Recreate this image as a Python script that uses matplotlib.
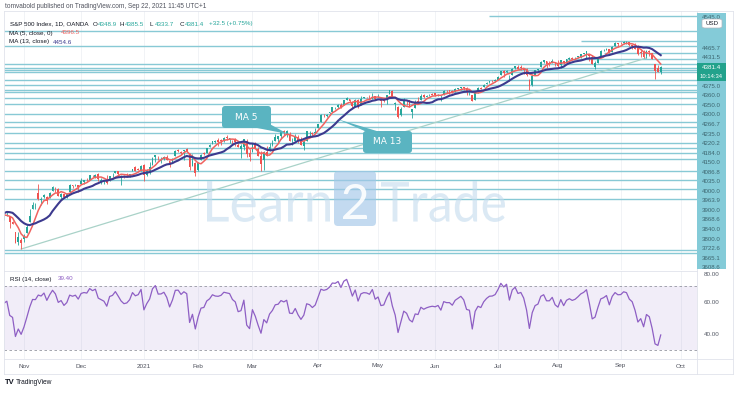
import numpy as np
import pandas as pd
import matplotlib
matplotlib.use('Agg')
import matplotlib.pyplot as plt
from matplotlib.patches import Rectangle, FancyBboxPatch, Polygon, PathPatch
from matplotlib.lines import Line2D
from matplotlib.textpath import TextPath
from matplotlib.font_manager import FontProperties
from matplotlib.transforms import Affine2D, IdentityTransform, blended_transform_factory

# ---------------- data (daily OHLC, 2020-09-30 .. 2021-09-22) ----------------
holidays = ['2020-11-26', '2020-12-25', '2021-01-01', '2021-01-18', '2021-02-15',
            '2021-04-02', '2021-05-31', '2021-07-05', '2021-09-06']
first_day, last_day = '2020-09-30', '2021-09-22'

opens = [
    3341, 3385, 3339, 3368, 3408, 3385, 3434, 3459, 3500, 3534, 3516, 3453, 3493, 3493, 3440, 3440, 3439, 3458, 3441, 3404, 3342, 3278, 3293,
    3297, 3336, 3406, 3485, 3509, 3584, 3544, 3564, 3563, 3552, 3601, 3611, 3612, 3560, 3580, 3566, 3594, 3635, 3638, 3634,
    3645, 3654, 3669, 3671, 3695, 3684, 3705, 3660, 3656, 3676, 3667, 3697, 3714, 3722, 3684, 3693, 3693, 3694, 3723, 3751, 3736, 3734,
    3764, 3698, 3712, 3764, 3815, 3803, 3801, 3802, 3815, 3788, 3782, 3817, 3858, 3844, 3852, 3863, 3836, 3755, 3778,
    3732, 3791, 3840, 3837, 3878, 3892, 3910, 3921, 3917, 3911, 3939, 3918, 3915, 3921, 3886, 3865, 3873, 3916, 3840,
    3842, 3903, 3863, 3819, 3793, 3844, 3851, 3891, 3916, 3924, 3943, 3974, 3949, 3953, 3913, 3917, 3938, 3919, 3880, 3917, 3970, 3963, 3967,
    3993, 4034, 4075, 4074, 4089, 4096, 4125, 4130, 4141, 4140, 4175, 4179, 4160, 4128, 4170, 4139, 4186, 4188, 4185, 4207, 4198,
    4191, 4180, 4178, 4170, 4211, 4229, 4150, 4131, 4075, 4129, 4169, 4170, 4099, 4122, 4169, 4170, 4205, 4191, 4201, 4210,
    4216, 4207, 4191, 4207, 4229, 4234, 4232, 4229, 4242, 4248, 4255, 4249, 4220, 4204, 4174, 4224, 4249, 4257, 4274, 4285, 4294, 4291,
    4300, 4327, 4356, 4351, 4321, 4330, 4373, 4381, 4381, 4370, 4367, 4297, 4265, 4332, 4361, 4381, 4409, 4416, 4402, 4404, 4396,
    4406, 4392, 4416, 4407, 4429, 4438, 4436, 4442, 4446, 4464, 4462, 4462, 4440, 4382, 4406, 4450, 4485, 4490, 4493, 4474, 4514, 4529,
    4528, 4534, 4532, 4535, 4518, 4513, 4507, 4474, 4479, 4447, 4478, 4470, 4402, 4375, 4348.9]
highs = [
    3393, 3397, 3369, 3409, 3432, 3426, 3447, 3482, 3549, 3535, 3527, 3490, 3515, 3502, 3476, 3465, 3461, 3467, 3441, 3410, 3342, 3342, 3305,
    3330, 3389, 3486, 3529, 3521, 3646, 3558, 3582, 3570, 3594, 3628, 3624, 3620, 3585, 3582, 3589, 3643, 3635, 3644, 3638,
    3678, 3670, 3682, 3700, 3698, 3708, 3712, 3679, 3666, 3697, 3695, 3711, 3725, 3726, 3702, 3697, 3711, 3703, 3740, 3756, 3744, 3760,
    3770, 3738, 3783, 3811, 3827, 3818, 3811, 3820, 3823, 3788, 3805, 3860, 3861, 3853, 3860, 3871, 3836, 3830, 3779,
    3784, 3831, 3847, 3872, 3894, 3916, 3918, 3931, 3925, 3937, 3950, 3933, 3921, 3931, 3903, 3895, 3928, 3926, 3862,
    3904, 3907, 3875, 3853, 3851, 3881, 3903, 3918, 3960, 3945, 3970, 3982, 3984, 3970, 3930, 3955, 3949, 3942, 3919, 3978, 3975, 3969, 3994,
    4021, 4084, 4087, 4084, 4098, 4129, 4131, 4148, 4152, 4174, 4191, 4180, 4164, 4176, 4180, 4195, 4194, 4194, 4201, 4218, 4199,
    4210, 4187, 4187, 4202, 4238, 4237, 4162, 4135, 4131, 4183, 4169, 4173, 4117, 4173, 4189, 4209, 4213, 4203, 4213, 4218,
    4217, 4213, 4204, 4234, 4233, 4236, 4238, 4249, 4249, 4255, 4257, 4251, 4233, 4205, 4226, 4255, 4256, 4271, 4287, 4293, 4300, 4303,
    4321, 4355, 4359, 4362, 4331, 4372, 4387, 4394, 4393, 4375, 4376, 4302, 4337, 4359, 4369, 4415, 4422, 4416, 4415, 4430, 4412,
    4423, 4424, 4417, 4430, 4441, 4440, 4446, 4449, 4461, 4468, 4480, 4462, 4455, 4418, 4443, 4489, 4493, 4501, 4496, 4513, 4537, 4531,
    4537, 4546, 4542, 4536, 4521, 4529, 4521, 4492, 4485, 4486, 4486, 4471, 4402, 4394, 4385.5]
lows = [
    3340, 3361, 3324, 3368, 3356, 3385, 3428, 3458, 3499, 3500, 3480, 3443, 3483, 3419, 3435, 3428, 3415, 3441, 3365, 3388, 3268, 3259, 3234,
    3279, 3336, 3405, 3485, 3485, 3543, 3511, 3557, 3519, 3552, 3601, 3595, 3567, 3544, 3556, 3553, 3594, 3618, 3630, 3595,
    3645, 3644, 3661, 3671, 3685, 3678, 3661, 3646, 3640, 3645, 3660, 3686, 3710, 3685, 3637, 3678, 3689, 3689, 3723, 3723, 3730, 3726,
    3663, 3695, 3705, 3764, 3784, 3797, 3776, 3792, 3792, 3749, 3781, 3817, 3846, 3831, 3795, 3847, 3733, 3755, 3694,
    3725, 3791, 3823, 3836, 3874, 3892, 3903, 3885, 3891, 3906, 3923, 3900, 3886, 3885, 3874, 3805, 3859, 3815, 3789,
    3842, 3869, 3818, 3723, 3730, 3819, 3851, 3885, 3916, 3905, 3924, 3949, 3936, 3913, 3886, 3917, 3902, 3889, 3854, 3917, 3942, 3944, 3967,
    3993, 4034, 4068, 4068, 4082, 4096, 4114, 4124, 4123, 4140, 4171, 4151, 4119, 4126, 4124, 4139, 4182, 4182, 4181, 4176, 4175,
    4188, 4128, 4160, 4147, 4208, 4188, 4111, 4057, 4069, 4129, 4143, 4125, 4061, 4122, 4151, 4170, 4182, 4188, 4197, 4203,
    4198, 4197, 4168, 4204, 4217, 4211, 4219, 4221, 4233, 4234, 4238, 4203, 4205, 4165, 4174, 4218, 4241, 4255, 4271, 4281, 4287, 4287,
    4300, 4327, 4314, 4340, 4289, 4330, 4365, 4368, 4360, 4337, 4323, 4233, 4259, 4330, 4351, 4379, 4405, 4373, 4387, 4404, 4386,
    4381, 4373, 4398, 4402, 4424, 4425, 4428, 4436, 4436, 4461, 4437, 4418, 4397, 4367, 4406, 4450, 4480, 4486, 4468, 4473, 4514, 4508,
    4522, 4522, 4524, 4513, 4494, 4493, 4457, 4446, 4435, 4439, 4448, 4428, 4306, 4347, 4333.7]
closes = [
    3363, 3381, 3348, 3409, 3361, 3419, 3447, 3477, 3534, 3512, 3489, 3483, 3484, 3427, 3443, 3436, 3453, 3465, 3401, 3391, 3271, 3310, 3270,
    3310, 3369, 3443, 3510, 3509, 3551, 3546, 3573, 3537, 3585, 3627, 3610, 3568, 3582, 3558, 3578, 3635, 3630, 3638, 3622,
    3662, 3669, 3667, 3699, 3692, 3702, 3673, 3668, 3663, 3647, 3695, 3701, 3722, 3709, 3695, 3687, 3690, 3703, 3735, 3727, 3732, 3756,
    3701, 3727, 3748, 3804, 3825, 3800, 3801, 3810, 3796, 3768, 3799, 3852, 3853, 3841, 3855, 3850, 3751, 3787, 3714,
    3774, 3826, 3830, 3872, 3887, 3916, 3911, 3910, 3916, 3935, 3933, 3931, 3914, 3907, 3877, 3881, 3925, 3829, 3811,
    3902, 3870, 3820, 3768, 3842, 3821, 3875, 3899, 3939, 3943, 3969, 3963, 3974, 3915, 3913, 3941, 3911, 3889, 3910, 3975, 3971, 3959, 3973,
    4020, 4078, 4074, 4080, 4097, 4129, 4128, 4142, 4125, 4170, 4185, 4163, 4135, 4173, 4135, 4180, 4188, 4187, 4183, 4211, 4181,
    4193, 4165, 4168, 4202, 4233, 4188, 4152, 4063, 4113, 4174, 4163, 4128, 4116, 4159, 4156, 4197, 4188, 4196, 4201, 4204,
    4202, 4208, 4193, 4230, 4227, 4227, 4220, 4239, 4247, 4255, 4247, 4224, 4222, 4166, 4225, 4246, 4242, 4266, 4281, 4291, 4292, 4298,
    4320, 4352, 4344, 4358, 4321, 4370, 4385, 4369, 4374, 4360, 4327, 4258, 4323, 4359, 4367, 4412, 4422, 4401, 4401, 4419, 4395,
    4387, 4423, 4403, 4429, 4437, 4432, 4437, 4448, 4461, 4468, 4480, 4448, 4400, 4406, 4442, 4480, 4486, 4496, 4470, 4509, 4529, 4523,
    4524, 4537, 4535, 4520, 4514, 4493, 4459, 4469, 4443, 4481, 4474, 4433, 4358, 4348.9, 4381.4]

# month tick labels on the time axis
tick_dates = ['2020-11-02', '2020-12-01', '2021-01-04', '2021-02-01', '2021-03-01', '2021-04-01',
              '2021-05-03', '2021-06-01', '2021-07-01', '2021-08-02', '2021-09-01', '2021-10-01']
tick_labels = ['Nov', 'Dec', '2021', 'Feb', 'Mar', 'Apr', 'May', 'Jun', 'Jul', 'Aug', 'Sep', 'Oct']

# horizontal levels drawn on chart (labelled ones + unlabelled)
level_labels = ['4545.0', '4465.7', '4431.5', '4400.0', '4375.0', '4360.0', '4350.0', '4300.0',
                '4266.7', '4235.0', '4220.2', '4184.0', '4150.0', '4086.8', '4035.0', '4000.0',
                '3963.9', '3900.0', '3868.6', '3840.0', '3800.0', '3722.6', '3665.1', '3608.6']
extra_levels = [4700, 4605, 4512, 3550, 3228, 3205]
ray_starts = {4700: '2021-06-28', 4545.0: '2021-08-12', 4465.7: '2021-08-24', 4431.5: '2021-08-05'}
trend_start = ('2020-10-30', 3233)
trend_end = ('2021-09-15', 4437)
last_price, clock = '4381.4', '10:14:34'
rsi_value = '39.40'
ohlc_text = ['O4348.9', 'H4385.5', 'L4333.7', 'C4381.4', '+32.5 (+0.75%)']
ma5_text, ma13_text = '4396.5', '4454.6'

# ---------------- layout ----------------
W, H = 740, 393
fig = plt.figure(figsize=(W / 100, H / 100), dpi=100)
fig.patch.set_facecolor('white')
FONT = 'Liberation Sans'
FS = 4.5


def FX(px):
    return px / W


def FY(py):
    return 1 - py / H


dates = np.arange(np.datetime64(first_day), np.datetime64(last_day) + 1)
dates = dates[np.is_busday(dates, holidays=holidays)]
assert len(dates) == len(closes) == len(opens) == len(highs) == len(lows), len(dates)
x = np.arange(len(closes))


def pos(d):
    return int(np.busday_count(np.datetime64(first_day), np.datetime64(d), holidays=holidays))


c = np.array(closes, float)
o = np.array(opens, float)
hi = np.array(highs, float)
lo = np.array(lows, float)

XL = (16.0, 258.7)
ax = fig.add_axes([FX(4), FY(270), 693 / W, 259 / H])
rx = fig.add_axes([FX(4), FY(359), 693 / W, 88 / H])
for a in (ax, rx):
    a.set_xlim(*XL)
    a.set_xticks([])
    a.set_yticks([])
    for s in a.spines.values():
        s.set_visible(False)
    a.set_facecolor('none')
ax.set_ylim(3101, 4733)
rx.set_ylim(24.4, 79.7)

tick_pos = [pos(d) for d in tick_dates]
for tp in tick_pos:
    for a in (ax, rx):
        a.axvline(tp, color='#f1f3f6', lw=0.7, zorder=0)

# horizontal levels
line_col = '#88c9d5'
levels = [float(v) for v in level_labels] + extra_levels
for lv in levels:
    start = pos(ray_starts[lv]) if lv in ray_starts else XL[0]
    ax.plot([start, XL[1]], [lv, lv], color=line_col, lw=1.0, zorder=1, solid_capstyle='butt')

# trend line
ax.plot([pos(trend_start[0]), pos(trend_end[0])], [trend_start[1], trend_end[1]],
        color='#a9d2c8', lw=0.9, zorder=2)

# candles
up = c >= o
green, red = '#26a69a', '#ef5350'
cols = np.where(up, green, red)
ax.vlines(x, lo, hi, colors=cols, lw=0.6, zorder=3)
ax.bar(x, np.where(np.abs(c - o) < 1.5, 1.5, c - o), bottom=o, width=0.62, color=cols, lw=0, zorder=4)

# moving averages
s = pd.Series(c)
ax.plot(x, s.rolling(5).mean(), color='#f0625f', lw=1.1, zorder=5)
ax.plot(x, s.rolling(13).mean(), color='#3c3a8e', lw=1.5, zorder=6)

# RSI (14) Wilder
d = np.diff(c)
g = np.where(d > 0, d, 0.0)
l_ = np.where(d < 0, -d, 0.0)
ag, al = g[:14].mean(), l_[:14].mean()
rsi = [np.nan] * 14 + [100 - 100 / (1 + ag / al)]
for i in range(14, len(d)):
    ag = (ag * 13 + g[i]) / 14
    al = (al * 13 + l_[i]) / 14
    rsi.append(100 - 100 / (1 + ag / al))
rsi = np.array(rsi[:len(c)])
rx.axhspan(30, 70, color='#7e57c2', alpha=0.1, lw=0, zorder=1)
rx.axhline(70, color='#9598a1', lw=0.6, ls=(0, (3, 3)), zorder=2)
rx.axhline(30, color='#9598a1', lw=0.6, ls=(0, (3, 3)), zorder=2)
rx.plot(x, rsi, color='#8e5fc4', lw=0.9, zorder=3)

# ---------------- frame lines ----------------
frame = '#e0e3eb'
for (x0, y0, x1, y1) in [(4, 11, 733, 11), (4, 271, 697, 271), (4, 359, 733, 359), (4, 374, 733, 374),
                         (697, 11, 697, 374), (733, 11, 733, 374), (4, 11, 4, 374)]:
    fig.add_artist(Line2D([FX(x0), FX(x1)], [FY(y0), FY(y1)], color=frame, lw=0.6))

# price axis column
fig.add_artist(Rectangle((FX(697), FY(269)), 29 / W, 256 / H, color='#84cbd8', lw=0, zorder=2))
slots = [0, 1, 2, 3] + list(range(5, 25))
for k, lab in zip(slots, level_labels):
    yy = 38.5 + 9.55 * k - (21 if k == 0 else 0)
    fig.text(FX(711.5), FY(yy), lab, ha='center', va='center', fontsize=4.4, color='#3d6670',
             family=FONT, zorder=3)
fig.add_artist(Rectangle((FX(697), FY(81)), 29 / W, 18 / H, color='#22a28c', lw=0, zorder=4))
fig.text(FX(711.5), FY(67.5), last_price, ha='center', va='center', fontsize=4.5, color='white',
         family=FONT, zorder=5)
fig.text(FX(711.5), FY(76.5), clock, ha='center', va='center', fontsize=4.2, color='white',
         family=FONT, zorder=5)
fig.add_artist(FancyBboxPatch((FX(702), FY(28)), 20 / W, 9 / H, boxstyle='round,pad=0,rounding_size=0.004',
                              fc='white', ec='#b2b5be', lw=0.5, zorder=6))
fig.text(FX(712), FY(23.5), 'USD', ha='center', va='center', fontsize=4.4, color='#131722', family=FONT, zorder=7)

# RSI axis
for v, yy in [('80.00', 275), ('60.00', 302), ('40.00', 334)]:
    fig.text(FX(712), FY(yy), v, ha='center', va='center', fontsize=4.5, color='#555a66', family=FONT,
             zorder=1)

# time axis
tb = blended_transform_factory(ax.transData, fig.transFigure)
for tp, lab in zip(tick_pos, tick_labels):
    fig.text(tp, FY(366), lab, transform=tb, ha='center', va='center', fontsize=4.6,
             color='#50535e', family=FONT)

# ---------------- texts ----------------
fig.text(FX(5), FY(6), 'tomvabold published on TradingView.com, Sep 22, 2021 11:45 UTC+1',
         fontsize=4.7, color='#50535e', va='center', family=FONT)
fig.text(FX(10), FY(24), 'S&P 500 Index, 1D, OANDA', fontsize=FS, color='#131722', va='center', family=FONT)
for xx, t in zip([93, 120, 150, 180], ohlc_text[:4]):
    fig.text(FX(xx), FY(24), t[0], fontsize=FS, color='#131722', va='center', family=FONT)
    fig.text(FX(xx + 4.5), FY(24), t[1:], fontsize=FS, color='#26a69a', va='center', family=FONT)
fig.text(FX(209), FY(24), ohlc_text[4], fontsize=FS, color='#26a69a', va='center', family=FONT)
fig.text(FX(9), FY(33), 'MA (5, close, 0)', fontsize=FS, color='#131722', va='center', family=FONT)
fig.text(FX(61), FY(33), ma5_text, fontsize=FS, color='#f0625f', va='center', family=FONT)
fig.text(FX(9), FY(42), 'MA (13, close)', fontsize=FS, color='#131722', va='center', family=FONT)
fig.text(FX(53), FY(42), ma13_text, fontsize=FS, color='#3c3a8e', va='center', family=FONT)
fig.text(FX(10), FY(279), 'RSI (14, close)', fontsize=FS, color='#131722', va='center', family=FONT)
fig.text(FX(58), FY(279), rsi_value, fontsize=FS, color='#8e5fc4', va='center', family=FONT)
fig.text(FX(5), FY(383), 'TV', fontsize=5.5, color='#131722', va='center', weight='bold', family=FONT)
fig.text(FX(16), FY(383), 'TradingView', fontsize=4.8, color='#131722', va='center', family=FONT)

# ---------------- watermark (pixel coords) ----------------
IT = IdentityTransform()


def fit_text(s, box, color, alpha, family='Lato', weight='normal', z=8):
    x0, y0, x1, y1 = box
    tp_ = TextPath((0, 0), s, size=10, prop=FontProperties(family=family, weight=weight))
    bb = tp_.get_extents()
    tr = Affine2D().translate(-bb.x0, -bb.y0).scale((x1 - x0) / bb.width, (y1 - y0) / bb.height) \
        .translate(x0, H - y1)
    p = PathPatch(tr.transform_path(tp_), fc=color, ec='none', alpha=alpha, transform=IT, zorder=z)
    fig.add_artist(p)


wm = '#c4dbee'
fit_text('Learn', (207, 181, 330, 222), wm, 0.6)
fig.add_artist(FancyBboxPatch((334, H - 226), 42, 55, boxstyle='round,pad=0,rounding_size=4',
                              fc='#a3c7e8', ec='none', alpha=0.65, transform=IT, zorder=8))
fit_text('2', (343, 184, 367, 219), 'white', 0.9, z=9)
fit_text('Trade', (381, 181, 505, 222), wm, 0.6)

# ---------------- callouts ----------------
cc = '#5ab4c1'


def callout(box, tail, text):
    x0, y0, x1, y1 = box
    fig.add_artist(Polygon([(px, H - py) for px, py in tail], closed=True, fc=cc, ec='none',
                           transform=IT, zorder=10))
    fig.add_artist(FancyBboxPatch((x0, H - y1), x1 - x0, y1 - y0, boxstyle='round,pad=0,rounding_size=3',
                                  fc=cc, ec='none', transform=IT, zorder=10))
    fig.text((x0 + x1) / 2 / W, 1 - (y0 + y1) / 2 / H, text, ha='center', va='center', color='white',
             fontsize=6.5, family='DejaVu Sans', zorder=11)


callout((222, 106, 271, 128), [(252, 127), (264, 121), (288, 134)], 'MA 5')
callout((363, 131, 412, 153), [(367, 132), (380, 132), (337, 119)], 'MA 13')

fig.savefig('out.png', dpi=100, facecolor='white')
